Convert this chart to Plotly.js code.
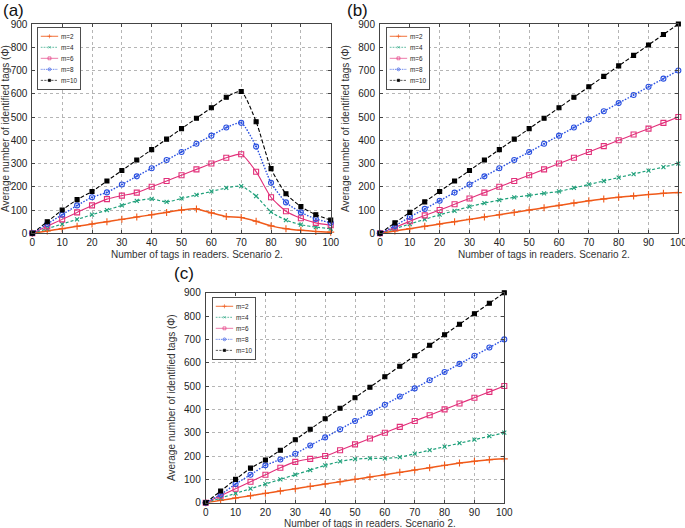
<!DOCTYPE html>
<html><head><meta charset="utf-8">
<script src="https://cdn.plot.ly/plotly-3.0.1.min.js"></script>
<style>html,body{margin:0;padding:0;background:#fff}#chart{width:685px;height:528px}</style>
</head><body><div id="chart"></div>
<script>
const xTags = [0,5,10,15,20,25,30,35,40,45,50,55,60,65,70,75,80,85,90,95,100];
const seriesNames = ['m=2','m=4','m=6','m=8','m=10'];

// Panel (a)
const a_m2  = [0,10,20,30,40,50,60,70,80,90,100,105,88,72,68,52,32,20,13,8,5];
const a_m4  = [0,20,40,60,80,100,120,140,148,135,150,165,180,195,203,160,92,57,37,27,20];
const a_m6  = [0,30,60,90,120,147,162,175,200,225,250,275,300,325,340,265,155,95,65,45,35];
const a_m8  = [0,40,80,120,155,176,210,245,280,315,350,385,420,455,475,373,217,133,90,62,45];
const a_m10 = [0,50,100,145,180,225,270,315,360,405,450,495,540,585,610,480,278,170,115,80,57];

// Panel (b)
const b_m2  = [0,10,20,30,40,50,60,70,80,90,100,110,120,130,140,148,155,161,167,172,175];
const b_m4  = [0,20,40,60,80,97,115,130,143,155,163,172,180,195,210,225,240,255,270,285,300];
const b_m6  = [0,25,52,77,100,125,150,175,200,225,250,275,300,325,350,375,400,425,450,475,500];
const b_m8  = [0,32,70,105,140,175,210,245,280,315,350,385,420,455,490,525,560,595,630,665,700];
const b_m10 = [0,45,90,135,180,225,270,315,360,405,450,495,540,585,630,675,720,765,810,855,900];

// Panel (c)
const c_m2  = [0,10,20,30,40,50,60,70,80,90,100,110,120,130,140,150,160,170,178,184,188];
const c_m4  = [0,20,40,60,80,100,120,140,160,177,187,190,190,195,210,225,240,255,270,285,300];
const c_m6  = [0,30,60,90,120,150,175,188,200,225,250,275,300,325,350,375,400,425,450,475,500];
const c_m8  = [0,35,80,120,160,185,210,245,280,315,350,385,420,455,490,525,560,595,630,665,700];
const c_m10 = [0,50,100,148,183,225,270,315,360,405,450,495,540,585,630,675,720,765,810,855,900];

const panelLabels = ['(a)','(b)','(c)'];
const xTitle = 'Number of tags in readers. Scenario 2.';
const yTitle = 'Average number of identified tags (Φ)';
const FONT = 'Liberation Sans, Arial, sans-serif';
const NARROW = 'Liberation Sans Narrow, Arial Narrow, Liberation Sans, sans-serif';

const styles = [
  {color:'#f05a1a', dash:'solid',   symbol:'cross-thin-open', size:5, width:1.5},
  {color:'#1fa07a', dash:'3px,2px', symbol:'x-thin-open',     size:4, width:1.2},
  {color:'#e2307a', dash:'solid',   symbol:'square-open',     size:5, width:1.1},
  {color:'#2a50e0', dash:'1.5px,1.5px', symbol:'circle-open-dot', size:5, width:1.4},
  {color:'#000000', dash:'4px,2px', symbol:'square',          size:4, width:1.1}
];

const panels = [
  {data:[a_m2,a_m4,a_m6,a_m8,a_m10], xa:'x',  ya:'y',  leg:'legend'},
  {data:[b_m2,b_m4,b_m6,b_m8,b_m10], xa:'x2', ya:'y2', leg:'legend2'},
  {data:[c_m2,c_m4,c_m6,c_m8,c_m10], xa:'x3', ya:'y3', leg:'legend3'}
];

const traces = [];
panels.forEach(p => {
  p.data.forEach((ys, i) => {
    const s = styles[i];
    traces.push({
      x: xTags, y: ys, type:'scatter', mode:'lines+markers', name: seriesNames[i],
      xaxis: p.xa, yaxis: p.ya, legend: p.leg, cliponaxis:false,
      line:{color:s.color, dash:s.dash, width:s.width, shape:'spline', smoothing:0.6},
      marker:{symbol:s.symbol, size:s.size, color:s.color, line:{color:s.color, width:1.1}}
    });
  });
});

const tickFont = {family:NARROW, size:10, color:'#222'};
function xax(domain, anchor){
  return {domain:domain, anchor:anchor, range:[0,100], tickvals:[0,10,20,30,40,50,60,70,80,90,100],
    showline:true, linecolor:'#444', linewidth:1, mirror:'ticks', ticks:'inside', ticklen:3, tickcolor:'#444',
    showgrid:true, gridcolor:'#b5b5b5', griddash:'dot', gridwidth:1, zeroline:false,
    tickfont:tickFont, ticklabelstandoff:0, ticklabeloverflow:'allow'};
}
function yax(domain, anchor){
  return {domain:domain, anchor:anchor, range:[0,900], tickvals:[0,100,200,300,400,500,600,700,800,900],
    showline:true, linecolor:'#444', linewidth:1, mirror:'ticks', ticks:'inside', ticklen:3, tickcolor:'#444',
    showgrid:true, gridcolor:'#b5b5b5', griddash:'dot', gridwidth:1, zeroline:false,
    tickfont:tickFont, ticklabelstandoff:2, ticklabeloverflow:'allow',
    title:{text:yTitle, font:{family:FONT, size:10, color:'#333'}, standoff:6}};
}
function leg(x, y){
  return {x:x, y:y, xanchor:'left', yanchor:'top', bgcolor:'#fff', bordercolor:'#333', borderwidth:1.5,
    font:{family:FONT, size:11, color:'#222'}, itemwidth:30, tracegroupgap:0, traceorder:'normal'};
}
function xtitleAnn(xpx, ypx){
  return {text:xTitle, xref:'paper', yref:'paper', x:xpx/685, y:1 - ypx/528, xanchor:'center', yanchor:'middle',
    showarrow:false, font:{family:NARROW, size:10, color:'#333'}};
}
function panelAnn(i, xpx, ypx){
  return {text:panelLabels[i], xref:'paper', yref:'paper', x:xpx/685, y:1 - ypx/528, xanchor:'left', yanchor:'top',
    showarrow:false, font:{family:FONT, size:17, color:'#111'}};
}

const layout = {
  width:685, height:528, margin:{l:0,r:0,t:0,b:0}, paper_bgcolor:'#fff', plot_bgcolor:'#fff',
  showlegend:true,
  xaxis: xax([0.0472,0.4828],'y'),
  yaxis: yax([0.5581,0.9545],'x'),
  xaxis2: xax([0.5547,0.9903],'y2'),
  yaxis2: yax([0.5581,0.9545],'x2'),
  xaxis3: xax([0.3003,0.7362],'y3'),
  yaxis3: yax([0.0479,0.4456],'x3'),
  legend: leg(37/685, 1-27/528),
  legend2: leg(386/685, 1-27/528),
  legend3: leg(212/685, 1-297/528),
  annotations: [
    panelAnn(0, 1, -1), panelAnn(1, 345, -1), panelAnn(2, 172, 262),
    xtitleAnn(197, 254),
    xtitleAnn(544, 254),
    xtitleAnn(370, 523)
  ]
};

Plotly.newPlot('chart', traces, layout, {displayModeBar:false, staticPlot:true}).then(gd => {
  ['legend','legend2','legend3'].forEach(cls => {
    const g = gd.querySelector('g.' + cls);
    if (g) {
      const t = g.getAttribute('transform') || '';
      g.setAttribute('transform', t + ' scale(0.58)');
    }
  });
});
</script></body></html>
